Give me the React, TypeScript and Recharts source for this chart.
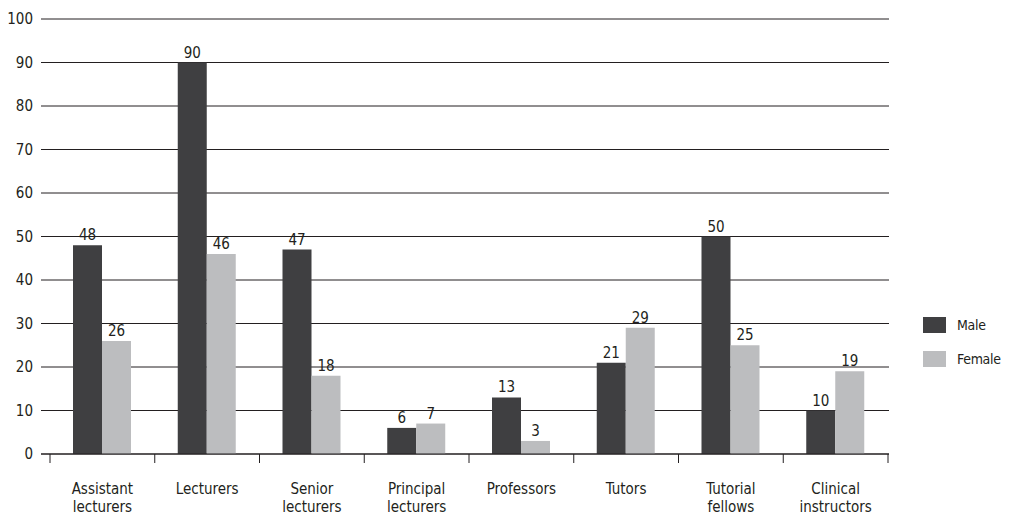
import React from 'react';
import { BarChart, Bar, XAxis, YAxis, CartesianGrid, Legend, LabelList } from 'recharts';

const categories = [
  'Assistant lecturers',
  'Lecturers',
  'Senior lecturers',
  'Principal lecturers',
  'Professors',
  'Tutors',
  'Tutorial fellows',
  'Clinical instructors',
];
const male = [48, 90, 47, 6, 13, 21, 50, 10];
const female = [26, 46, 18, 7, 3, 29, 25, 19];
const yTicks = [0, 10, 20, 30, 40, 50, 60, 70, 80, 90, 100];
const seriesNames = ['Male', 'Female'];

const data = categories.map((c, i) => ({ category: c, Male: male[i], Female: female[i] }));

const FONT = "'Liberation Sans Narrow', 'Arial Narrow', 'DejaVu Sans Condensed', sans-serif";
const FS = 15;
const TEXT = '#231f20';
const MALE_COLOR = '#3f3f41';
const FEMALE_COLOR = '#bcbdbf';
const TICK_SIZE = 8;
const TICK_MARGIN = 2;

const XTick = (props: any) => {
  const { x, y, payload, index, visibleTicksCount } = props;
  const half = payload && typeof payload.offset === 'number' ? payload.offset : 52.375;
  const top = y - TICK_SIZE - TICK_MARGIN;
  const lines = String(payload.value).split(' ');
  const isLast = index === (visibleTicksCount ?? categories.length) - 1;
  return (
    <g>
      <line x1={x - half} x2={x - half} y1={top} y2={top + 9} stroke={TEXT} strokeWidth={1} />
      {isLast && <line x1={x + half} x2={x + half} y1={top} y2={top + 9} stroke={TEXT} strokeWidth={1} />}
      <text x={x} y={y} textAnchor="middle" fontFamily={FONT} fontSize={FS} fill={TEXT}>
        {lines.map((l, i) => (
          <tspan key={i} x={x} dy={i === 0 ? 30 : 18}>
            {l}
          </tspan>
        ))}
      </text>
    </g>
  );
};

const LegendContent = () => (
  <div style={{ fontFamily: FONT, fontSize: 14, letterSpacing: -0.3, color: TEXT, width: 90 }}>
    {seriesNames.map((n, i) => (
      <div key={n} style={{ display: 'flex', alignItems: 'center', height: 16, marginBottom: i === 0 ? 18 : 0 }}>
        <div style={{ width: 23, height: 16, background: i === 0 ? MALE_COLOR : FEMALE_COLOR, marginRight: 11, flexShrink: 0 }} />
        <span style={{ whiteSpace: 'nowrap' }}>{n}</span>
      </div>
    ))}
  </div>
);

export default function App() {
  return (
    <>
      <style>{'html,body{overflow:hidden}'}</style>
      <BarChart
        width={1002}
        height={507}
        data={data}
        margin={{ top: 11, right: 121, bottom: 0, left: 0 }}
        barSize={29}
        barGap={0}
      >
        <CartesianGrid vertical={false} stroke={TEXT} strokeOpacity={1} />
        <XAxis
          dataKey="category"
          height={61}
          padding={{ left: 9, right: 1 }}
          tickLine={false}
          tickSize={TICK_SIZE}
          tickMargin={TICK_MARGIN}
          axisLine={{ stroke: TEXT }}
          tick={<XTick />}
          interval={0}
        />
        <YAxis
          width={33}
          domain={[0, 100]}
          ticks={yTicks}
          axisLine={false}
          tickLine={false}
          tickSize={6}
          tickMargin={2}
          tick={{ fontFamily: FONT, fontSize: FS, fill: TEXT }}
          interval={0}
        />
        <Legend
          layout="horizontal"
          verticalAlign="middle"
          align="center"
          content={<LegendContent />}
          wrapperStyle={{ left: 915, top: 309, width: 84, height: 50, overflow: 'visible' }}
        />
        <Bar dataKey="Male" fill={MALE_COLOR} isAnimationActive={false}>
          <LabelList dataKey="Male" position="top" offset={5} fontFamily={FONT} fontSize={FS} fill={TEXT} />
        </Bar>
        <Bar dataKey="Female" fill={FEMALE_COLOR} isAnimationActive={false}>
          <LabelList dataKey="Female" position="top" offset={5} fontFamily={FONT} fontSize={FS} fill={TEXT} />
        </Bar>
      </BarChart>
    </>
  );
}
